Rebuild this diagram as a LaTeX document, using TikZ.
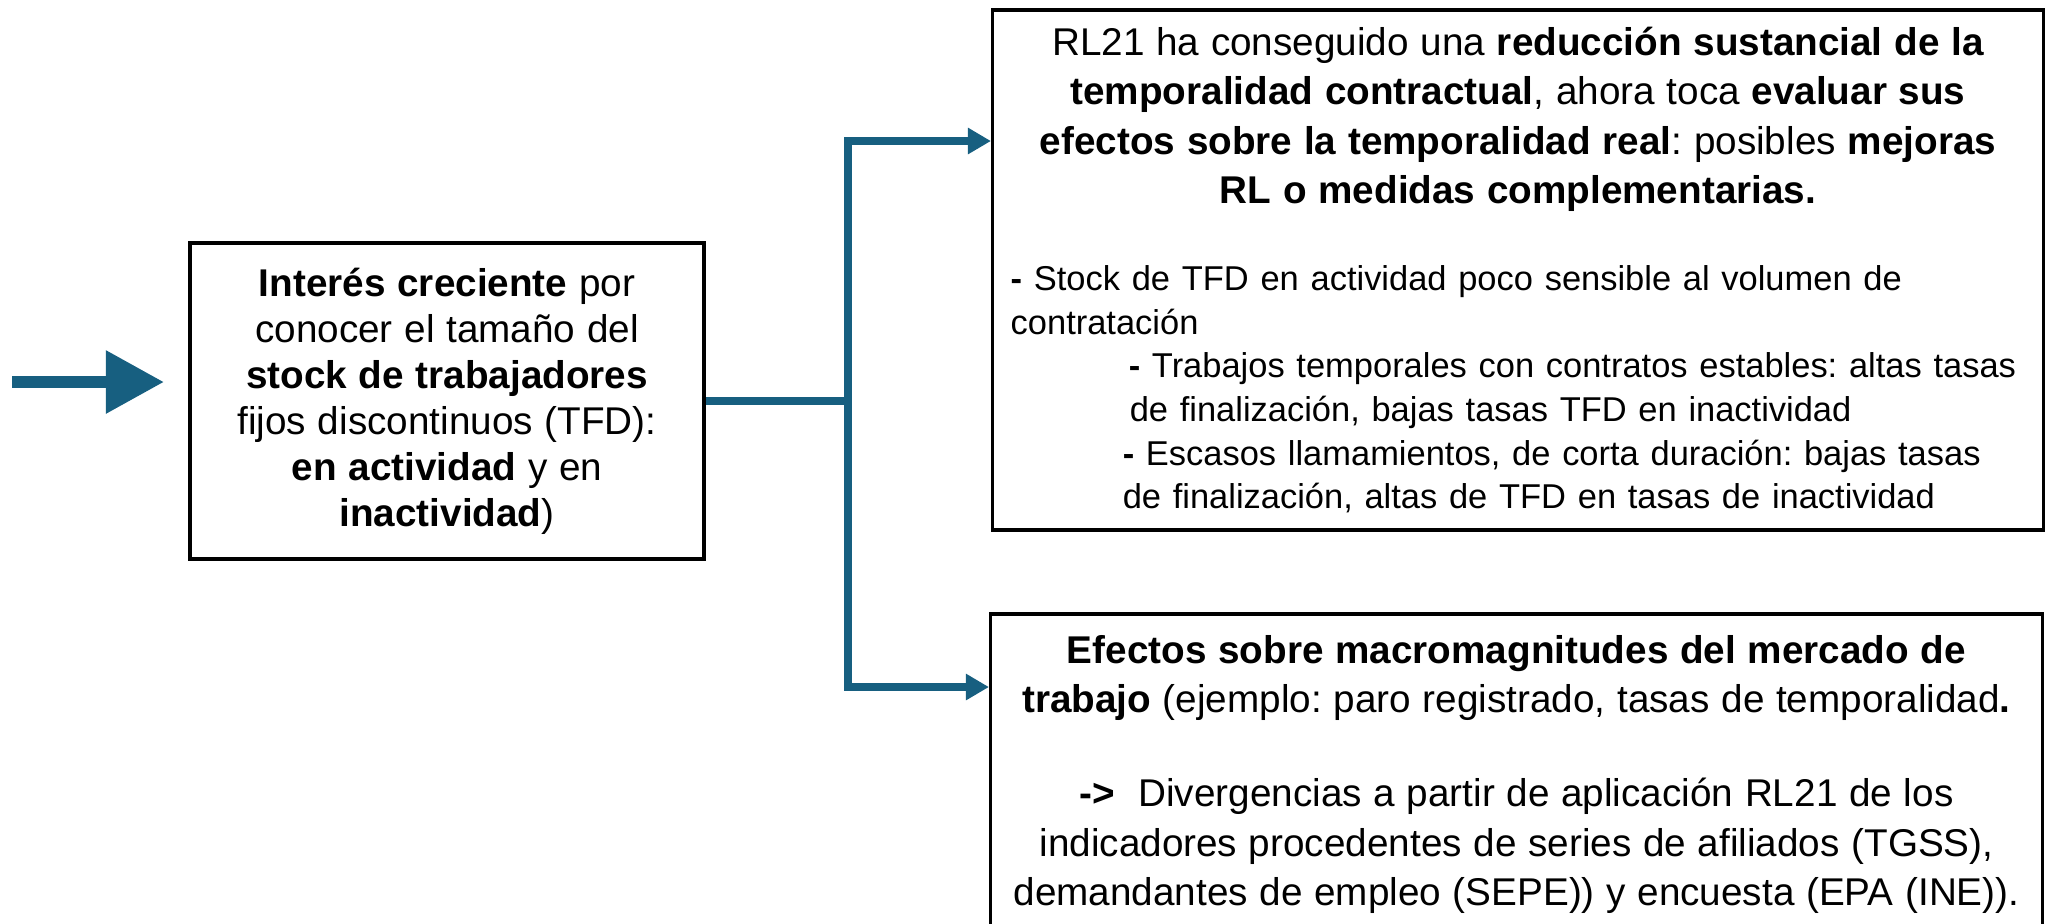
\documentclass[tikz,border=0pt]{standalone}
\usepackage{fontspec}
\setmainfont{Liberation Sans}
\usepackage{tikz}
\usetikzlibrary{arrows.meta,positioning,calc}
\definecolor{flecha}{HTML}{175F80}
\frenchspacing

\begin{document}
\begin{tikzpicture}[x=0.01cm, y=-0.01cm,
    box/.style={draw, line width=1pt, inner sep=0pt, align=center},
    arr/.style={-{Triangle[length=0.23cm,width=0.25cm]}, color=flecha, line width=0.08cm},
    bigarr/.style={-{Triangle[length=0.58cm,width=0.6cm]}, color=flecha, line width=0.12cm}
]
\clip (0,0) rectangle (2049,923);

\node[box, minimum width=5.14cm, minimum height=3.16cm, text width=5cm] (interes) at (447,401)
  {\fontsize{11}{13.1}\selectfont
   \textbf{Interés creciente} por\\
   conocer el tamaño del\\
   \textbf{stock de trabajadores}\\
   fijos discontinuos (TFD):\\
   \textbf{en actividad} y en\\
   \textbf{inactividad})\par};

\node[box, minimum width=10.5cm, minimum height=5.2cm, text width=10.14cm] (reforma) at (1518,270)
  {{\fontsize{11}{14.1}\selectfont
   RL21 ha conseguido una \textbf{reducción sustancial de la}\\
   \textbf{temporalidad contractual}, ahora toca \textbf{evaluar sus}\\
   \textbf{efectos sobre la temporalidad real}: posibles \textbf{mejoras}\\
   \textbf{RL o medidas complementarias.}\par}
   \vspace{12.3pt}
   {\fontsize{9.8}{12.4}\selectfont
   \makebox[10.14cm][l]{\textbf{-} Stock de TFD en actividad poco sensible al volumen de}\\
   \makebox[10.14cm][l]{contratación}\\
   \makebox[10.14cm][l]{\hspace*{1.18cm}\textbf{-} Trabajos temporales con contratos estables: altas tasas}\\
   \makebox[10.14cm][l]{\hspace*{1.19cm}de finalización, bajas tasas TFD en inactividad}\\
   \makebox[10.14cm][l]{\hspace*{1.12cm}\textbf{-} Escasos llamamientos, de corta duración: bajas tasas}\\
   \makebox[10.14cm][l]{\hspace*{1.12cm}de finalización, altas de TFD en tasas de inactividad}\par}};

\node[box, minimum width=10.51cm, minimum height=3.21cm, text width=10.14cm] (efectos) at (1516.5,774.5)
  {\fontsize{11}{14}\selectfont
   \textbf{Efectos sobre macromagnitudes del mercado de}\\
   \textbf{trabajo} (ejemplo: paro registrado, tasas de temporalidad\textbf{.}\\[12.7pt]
   \textbf{->}~ Divergencias a partir de aplicación RL21 de los\\
   indicadores procedentes de series de afiliados (TGSS),\\
   demandantes de empleo (SEPE)) y encuesta (EPA (INE)).\par};

% flecha de entrada
\coordinate (ini) at (12,382);
\coordinate (fin) at (164,382);
\draw[bigarr] (ini) -- (fin);

% ramas
\coordinate (cruce) at (848,401);
\coordinate (alto) at (848,141);
\coordinate (bajo) at (848,687);
\draw[arr] (interes.east) -- (cruce) |- (alto -| reforma.west);
\draw[arr] (cruce) |- (bajo -| efectos.west);
\end{tikzpicture}
\end{document}
